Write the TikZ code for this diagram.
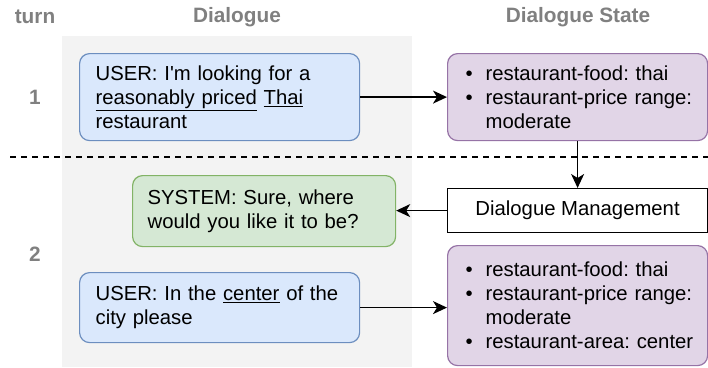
\documentclass[tikz,border=0pt]{standalone}
\usepackage{fontspec}
\setmainfont{Liberation Sans}
\usepackage{xcolor}
\usetikzlibrary{arrows.meta}
\definecolor{userfill}{HTML}{DAE8FC}
\definecolor{userdraw}{HTML}{6C8EBF}
\definecolor{sysfill}{HTML}{D5E8D4}
\definecolor{sysdraw}{HTML}{82B366}
\definecolor{statefill}{HTML}{E1D5E7}
\definecolor{statedraw}{HTML}{9673A6}
\definecolor{panelgray}{HTML}{F3F3F3}
\definecolor{headgray}{HTML}{808080}
\newcommand{\slotline}[1]{\makebox[20pt][l]{\textbullet}\mbox{#1}}
\newcommand{\slotmore}[1]{\hspace*{20pt}\mbox{#1}}
\frenchspacing

\begin{document}
\begin{tikzpicture}[x=1pt,y=-1pt,font=\fontsize{20.3}{24}\selectfont,
            >={Stealth[length=14pt,width=13pt,inset=4pt]},
            every path/.style={line width=1.4pt},
            head/.style={text=headgray,font=\fontsize{20.8}{24}\selectfont\bfseries},
            msg/.style={draw,line width=1.2pt,rounded corners=10pt,anchor=north west,align=left,inner sep=0pt},
            usermsg/.style={msg,fill=userfill,draw=userdraw,minimum width=280pt,text width=248pt},
            sysmsg/.style={msg,fill=sysfill,draw=sysdraw,minimum width=263pt,text width=233pt},
            slots/.style={msg,fill=statefill,draw=statedraw,minimum width=260pt,text width=224pt}]
            \useasboundingbox (0,0) rectangle (708,367);
            \fill[panelgray] (62,36) rectangle (412,367);
            \draw[dashed,dash pattern=on 6pt off 5pt] (10,157) -- (708,157);

            \node[head] (turnhead) at (35,17) {turn};
            \node[head] (dialhead) at (237,17) {Dialogue};
            \node[head] (statehead) at (578,17) {Dialogue State};
            \node[head] (turn1) at (35,97) {1};
            \node[head] (turn2) at (35,254) {2};

            \node[usermsg,minimum height=87pt] (user1) at (79,53)
                {USER: I\textquotesingle m looking for a\\ \underline{reasonably priced} \underline{Thai}\\ restaurant};
            \node[slots,minimum height=87pt] (state1) at (447,53)
                {\slotline{restaurant-food: thai}\\ \slotline{restaurant-price range:}\\ \slotmore{moderate}};
            \node[draw,line width=1.2pt,anchor=north west,minimum width=260pt,minimum height=44pt] (manager) at (447,188)
                {Dialogue Management};
            \node[sysmsg,minimum height=71pt] (system) at (132,175)
                {SYSTEM: Sure, where\\ would you like it to be?};
            \node[usermsg,minimum height=70pt] (user2) at (79,272)
                {USER: In the \underline{center} of the\\ city please};
            \node[slots,minimum height=120pt] (state2) at (447,245)
                {\slotline{restaurant-food: thai}\\ \slotline{restaurant-price range:}\\ \slotmore{moderate}\\ \slotline{restaurant-area: center}};

            \draw[->] (user1) -- (state1);
            \draw[->] (state1) -- (manager);
            \draw[->] (manager.west) -- (manager.west -| system.east);
            \draw[->] (user2) -- (user2 -| state2.west);
\end{tikzpicture}
\end{document}
